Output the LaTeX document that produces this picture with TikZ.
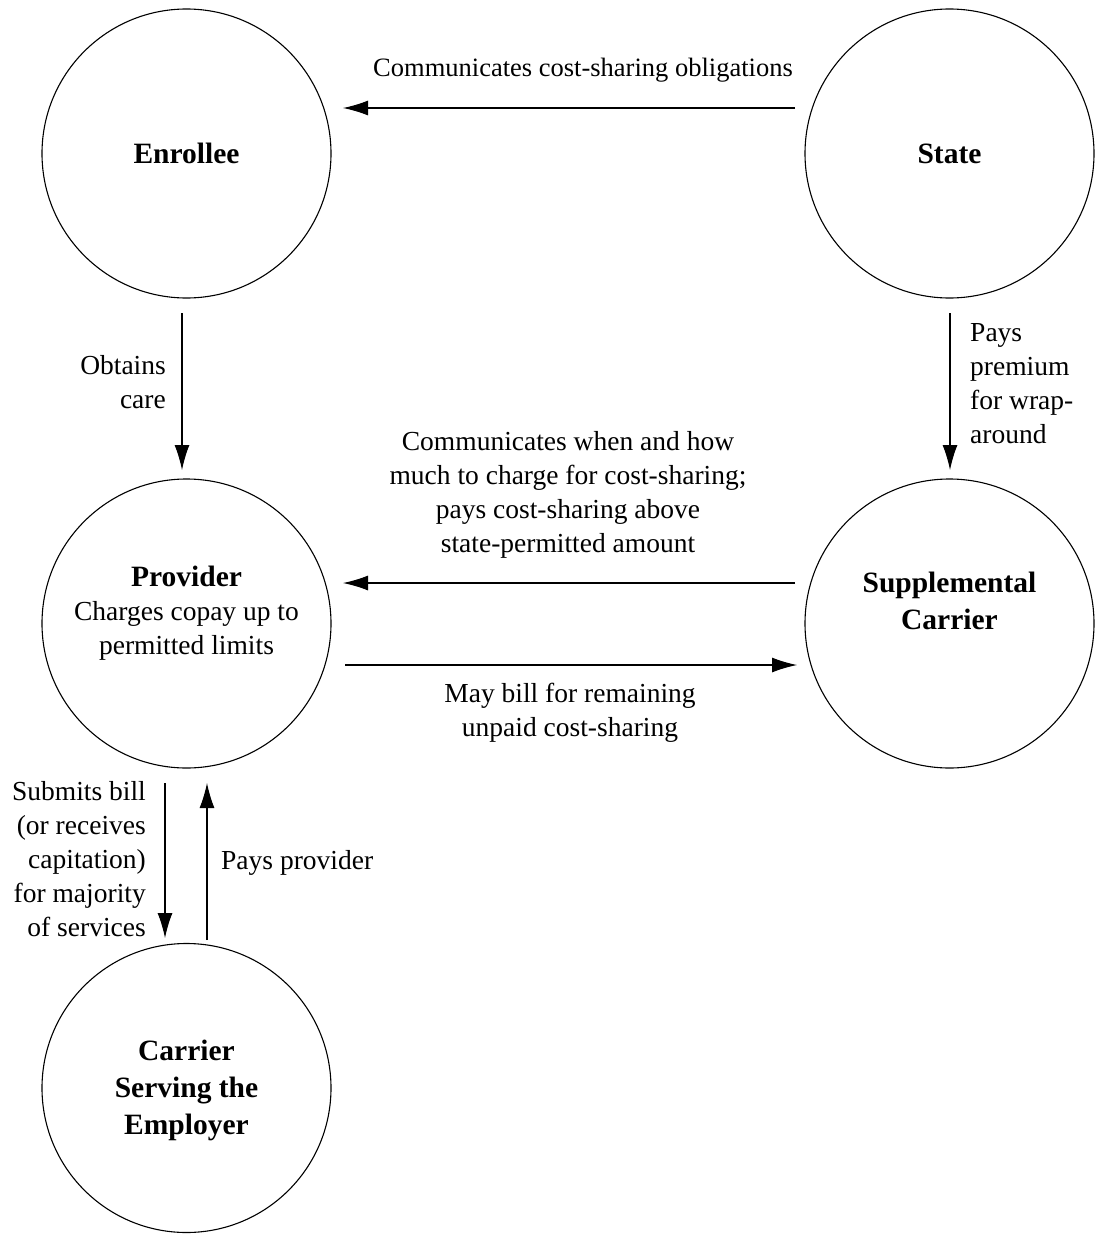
\documentclass[tikz,border=0pt]{standalone}
\usepackage{fontspec}
\setmainfont{Liberation Serif}
\usetikzlibrary{arrows.meta,calc}
\begin{document}
\begin{tikzpicture}[x=1pt,y=-1pt,
  party/.style={circle,draw,line width=1.1pt,minimum size=289pt,inner sep=0pt},
  title/.style={align=center,font=\fontsize{29.5}{37}\selectfont\bfseries,inner sep=0pt},
  note/.style={font=\fontsize{27.5}{34}\selectfont,inner sep=0pt},
  flow/.style={line width=1.1pt,-{Latex[length=25pt,width=15pt]}}]
\useasboundingbox (0,0) rectangle (1101,1234);

% parties
\node[party] (enrollee) at (186.5,153.5) {};
\node[party] (state)    at (949.5,153.5) {};
\node[party] (provider) at (186.5,623.5) {};
\node[party] (supp)     at (949.5,623.5) {};
\node[party] (carrier)  at (186.5,1088) {};

\node[title] (tEnr) at (enrollee.center) {Enrollee};
\node[title] (tSta) at (state.center) {State};
\node[title] (tSup) at ($(supp.center)+(0,-23)$) {Supplemental\\Carrier};
\node[title] (tCar) at ($(carrier.center)+(0,2)$) {Carrier\\Serving the\\Employer};
\node[note,align=center] (tPro) at ($(provider.center)+(0,-10)$)
  {{\fontsize{29.5}{34}\selectfont\bfseries Provider}\\Charges copay up to\\permitted limits};

% flows
\draw[flow] ($(state.center)+(-154.5,-45.5)$) -- ($(enrollee.center)+(156.5,-45.5)$);
\node[note,font=\fontsize{26.5}{34}\selectfont] (l1) at (583,70) {Communicates cost-sharing obligations};

\draw[flow] ($(enrollee.center)+(-4.5,159.5)$) -- ($(provider.center)+(-4.5,-153.5)$);
\node[note,align=right,anchor=east] (l2) at (166,382) {Obtains\\care};

\draw[flow] ($(state.center)+(0.5,159.5)$) -- ($(supp.center)+(0.5,-153.5)$);
\node[note,align=left,anchor=west] (l3) at (970,384) {Pays\\premium\\for wrap-\\around};

\draw[flow] ($(supp.center)+(-154.5,-40.5)$) -- ($(provider.center)+(156.5,-40.5)$);
\node[note,align=center] (l4) at (568,495) {Communicates when and how\\much to charge for cost-sharing;\\pays cost-sharing above\\state-permitted amount};

\draw[flow] ($(provider.center)+(158.5,41.5)$) -- ($(supp.center)+(-152.5,41.5)$);
\node[note,align=center] (l5) at (570,713) {May bill for remaining\\unpaid cost-sharing};

\draw[flow] ($(provider.center)+(-21.5,159.5)$) -- ($(carrier.center)+(-21.5,-150)$);
\node[note,align=right,anchor=east] (l6) at (146,859) {Submits bill\\(or receives\\capitation)\\for majority\\of services};

\draw[flow] ($(carrier.center)+(20.5,-148)$) -- ($(provider.center)+(20.5,159.5)$);
\node[note,anchor=west] (l7) at (221,863) {Pays provider};
\end{tikzpicture}
\end{document}
